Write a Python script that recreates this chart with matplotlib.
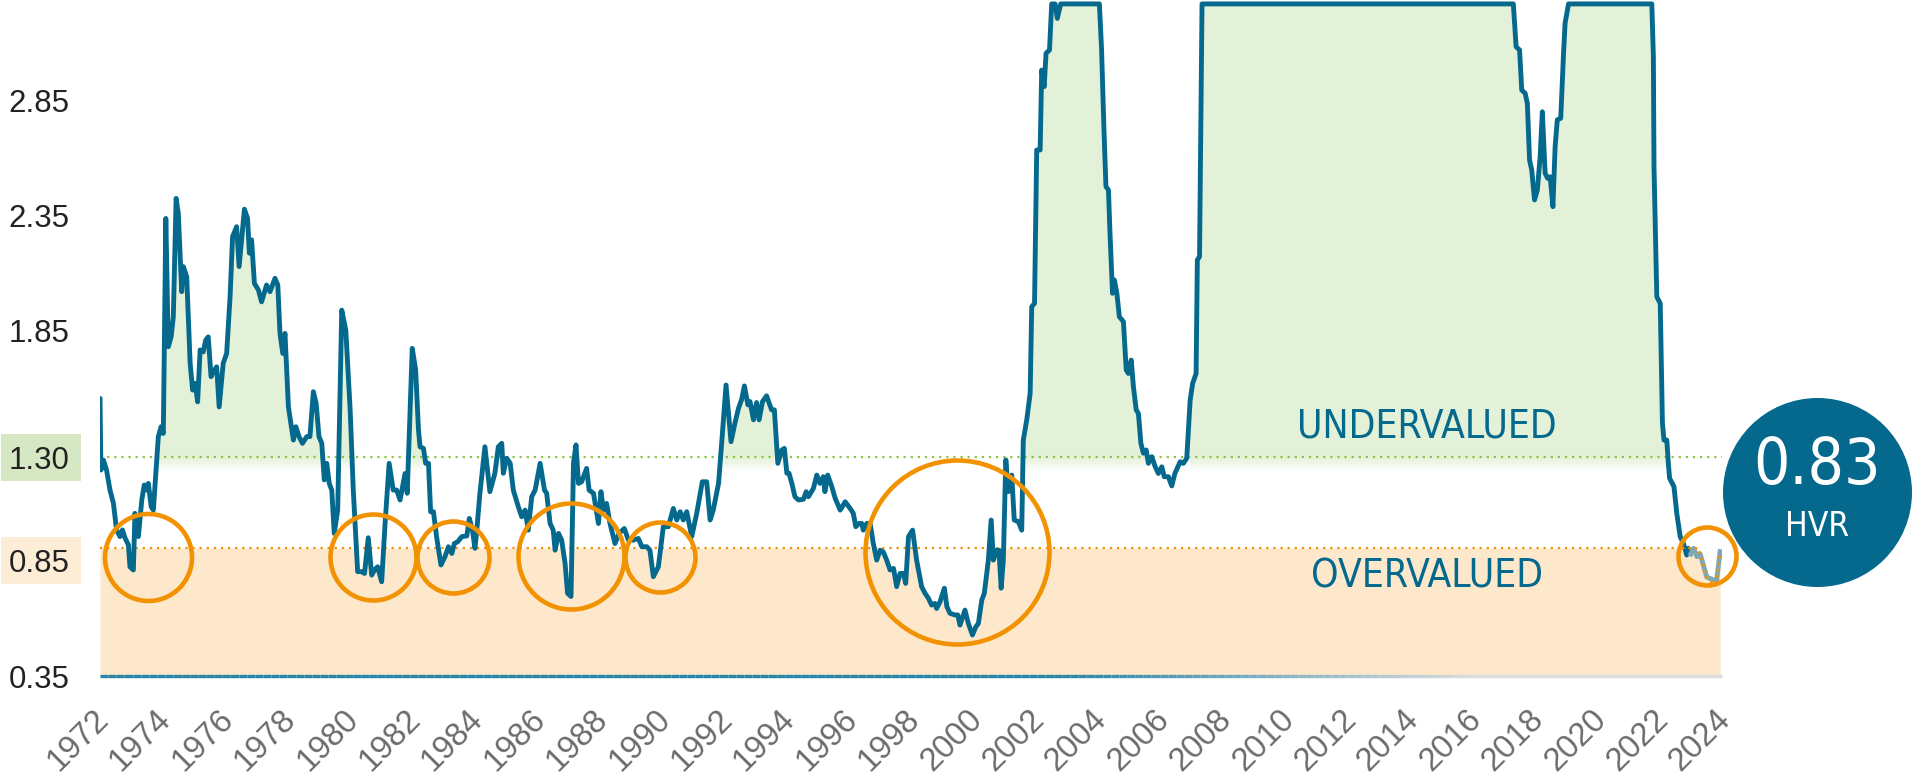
import numpy as np
import matplotlib
matplotlib.use("Agg")
import matplotlib.pyplot as plt
from matplotlib import font_manager as fm
from matplotlib.collections import LineCollection
from matplotlib.colors import to_rgba
import matplotlib.transforms as mtransforms
from matplotlib.patches import Rectangle

# ---------------- data ----------------
years = [
    1972.00, 1972.03, 1972.11, 1972.21, 1972.32, 1972.43, 1972.53, 1972.64, 1972.72, 1972.80,
    1972.91, 1972.96, 1973.07, 1973.12, 1973.18, 1973.23, 1973.34, 1973.42, 1973.50, 1973.55,
    1973.64, 1973.71, 1973.82, 1973.87, 1973.96, 1974.03, 1974.11, 1974.19, 1974.28, 1974.35,
    1974.44, 1974.51, 1974.62, 1974.67, 1974.78, 1974.89, 1974.97, 1975.05, 1975.13, 1975.21,
    1975.31, 1975.39, 1975.47, 1975.56, 1975.63, 1975.74, 1975.82, 1975.95, 1976.06, 1976.17,
    1976.25, 1976.38, 1976.46, 1976.52, 1976.63, 1976.73, 1976.79, 1976.86, 1976.95, 1977.08,
    1977.18, 1977.34, 1977.45, 1977.61, 1977.70, 1977.77, 1977.86, 1977.93, 1978.04, 1978.20,
    1978.28, 1978.38, 1978.49, 1978.63, 1978.73, 1978.84, 1978.93, 1979.02, 1979.11, 1979.19,
    1979.27, 1979.35, 1979.43, 1979.51, 1979.62, 1979.75, 1979.88, 1980.02, 1980.12, 1980.26,
    1980.39, 1980.48, 1980.60, 1980.71, 1980.80, 1980.90, 1981.03, 1981.14, 1981.27, 1981.40,
    1981.51, 1981.62, 1981.78, 1981.85, 1982.01, 1982.12, 1982.21, 1982.26, 1982.37, 1982.44,
    1982.53, 1982.60, 1982.69, 1982.79, 1982.93, 1983.06, 1983.17, 1983.28, 1983.36, 1983.47,
    1983.60, 1983.76, 1983.84, 1983.94, 1984.02, 1984.08, 1984.18, 1984.34, 1984.50, 1984.66,
    1984.77, 1984.88, 1984.93, 1985.04, 1985.15, 1985.25, 1985.41, 1985.52, 1985.63, 1985.73,
    1985.84, 1985.95, 1986.11, 1986.25, 1986.32, 1986.43, 1986.53, 1986.59, 1986.70, 1986.80,
    1986.91, 1986.99, 1987.10, 1987.18, 1987.26, 1987.34, 1987.44, 1987.60, 1987.68, 1987.82,
    1987.98, 1988.06, 1988.14, 1988.24, 1988.35, 1988.51, 1988.64, 1988.81, 1988.94, 1989.10,
    1989.26, 1989.37, 1989.53, 1989.63, 1989.74, 1989.90, 1990.06, 1990.22, 1990.38, 1990.49,
    1990.60, 1990.70, 1990.81, 1990.97, 1991.13, 1991.31, 1991.45, 1991.56, 1991.66, 1991.83,
    1991.93, 1992.07, 1992.23, 1992.36, 1992.47, 1992.57, 1992.66, 1992.77, 1992.84, 1992.95,
    1993.05, 1993.13, 1993.24, 1993.37, 1993.53, 1993.62, 1993.73, 1993.86, 1993.94, 1994.02,
    1994.09, 1994.18, 1994.28, 1994.39, 1994.55, 1994.64, 1994.71, 1994.87, 1994.98, 1995.08,
    1995.19, 1995.24, 1995.33, 1995.46, 1995.57, 1995.73, 1995.89, 1996.05, 1996.15, 1996.23,
    1996.33, 1996.42, 1996.47, 1996.58, 1996.69, 1996.79, 1996.90, 1997.01, 1997.11, 1997.22,
    1997.33, 1997.44, 1997.54, 1997.65, 1997.76, 1997.83, 1997.92, 1998.05, 1998.18, 1998.34,
    1998.45, 1998.56, 1998.66, 1998.77, 1998.82, 1998.93, 1999.07, 1999.15, 1999.25, 1999.41,
    1999.50, 1999.57, 1999.73, 1999.84, 1999.97, 2000.08, 2000.16, 2000.27, 2000.35, 2000.48,
    2000.57, 2000.64, 2000.75, 2000.82, 2000.89, 2000.96, 2001.04, 2001.12, 2001.23, 2001.31,
    2001.44, 2001.55, 2001.60, 2001.71, 2001.82, 2001.87, 2001.96, 2002.03, 2002.14, 2002.19,
    2002.27, 2002.33, 2002.44, 2002.51, 2002.62, 2002.69, 2002.80, 2004.04, 2004.11, 2004.19,
    2004.25, 2004.33, 2004.38, 2004.46, 2004.52, 2004.60, 2004.68, 2004.81, 2004.90, 2004.97,
    2005.06, 2005.13, 2005.22, 2005.29, 2005.37, 2005.45, 2005.54, 2005.61, 2005.72, 2005.83,
    2005.93, 2006.04, 2006.12, 2006.25, 2006.36, 2006.46, 2006.63, 2006.73, 2006.84, 2006.95,
    2007.03, 2007.14, 2007.18, 2007.25, 2007.33, 2017.31, 2017.40, 2017.51, 2017.58, 2017.69,
    2017.76, 2017.83, 2017.90, 2017.99, 2018.08, 2018.17, 2018.24, 2018.33, 2018.41, 2018.49,
    2018.58, 2018.65, 2018.72, 2018.83, 2018.92, 2018.97, 2019.08, 2021.75, 2021.80, 2021.82,
    2021.86, 2021.91, 2022.02, 2022.09, 2022.14, 2022.23, 2022.28, 2022.32, 2022.46, 2022.55,
    2022.66, 2022.76, 2022.87, 2022.92, 2023.00,
]
hvr = [
    1.555, 1.244, 1.287, 1.244, 1.157, 1.100, 0.984, 0.955, 0.984, 0.950,
    0.919, 0.824, 0.810, 1.056, 0.961, 0.955, 1.114, 1.179, 1.157, 1.186,
    1.085, 1.070, 1.287, 1.389, 1.432, 1.403, 2.336, 1.779, 1.822, 1.909,
    2.423, 2.358, 2.018, 2.127, 2.083, 1.707, 1.591, 1.620, 1.540, 1.765,
    1.757, 1.808, 1.822, 1.649, 1.670, 1.692, 1.518, 1.707, 1.750, 1.996,
    2.257, 2.300, 2.127, 2.214, 2.376, 2.336, 2.185, 2.243, 2.054, 2.025,
    1.974, 2.047, 2.018, 2.076, 2.047, 1.837, 1.750, 1.837, 1.518, 1.374,
    1.432, 1.389, 1.360, 1.389, 1.389, 1.584, 1.533, 1.389, 1.360, 1.201,
    1.273, 1.186, 1.157, 0.969, 1.070, 1.938, 1.851, 1.504, 1.157, 0.803,
    0.803, 0.795, 0.950, 0.788, 0.810, 0.824, 0.759, 1.013, 1.273, 1.157,
    1.157, 1.114, 1.229, 1.143, 1.772, 1.678, 1.418, 1.345, 1.338, 1.273,
    1.273, 1.063, 1.063, 0.955, 0.832, 0.868, 0.911, 0.882, 0.925, 0.933,
    0.955, 0.958, 1.034, 0.983, 0.904, 0.983, 1.143, 1.345, 1.150, 1.230,
    1.345, 1.360, 1.230, 1.295, 1.273, 1.157, 1.085, 1.041, 1.070, 0.983,
    1.128, 1.157, 1.273, 1.157, 1.143, 1.012, 0.983, 0.896, 0.969, 0.940,
    0.839, 0.709, 0.695, 1.273, 1.353, 1.186, 1.193, 1.251, 1.157, 1.143,
    1.012, 1.150, 1.070, 1.099, 1.012, 0.925, 0.969, 0.990, 0.940, 0.940,
    0.947, 0.911, 0.911, 0.896, 0.781, 0.824, 0.998, 0.998, 1.077, 1.027,
    1.063, 1.027, 1.063, 0.955, 1.056, 1.193, 1.193, 1.027, 1.070, 1.186,
    1.360, 1.613, 1.367, 1.450, 1.512, 1.550, 1.609, 1.527, 1.541, 1.462,
    1.537, 1.462, 1.541, 1.566, 1.505, 1.505, 1.273, 1.331, 1.338, 1.230,
    1.230, 1.186, 1.128, 1.114, 1.117, 1.150, 1.128, 1.164, 1.222, 1.186,
    1.215, 1.150, 1.222, 1.172, 1.121, 1.070, 1.106, 1.077, 1.056, 0.998,
    1.012, 1.012, 0.983, 1.012, 1.012, 0.926, 0.853, 0.896, 0.889, 0.853,
    0.810, 0.817, 0.738, 0.795, 0.795, 0.752, 0.955, 0.983, 0.853, 0.738,
    0.709, 0.687, 0.658, 0.665, 0.643, 0.672, 0.731, 0.651, 0.622, 0.615,
    0.615, 0.571, 0.636, 0.578, 0.528, 0.564, 0.578, 0.680, 0.709, 0.853,
    1.027, 0.853, 0.896, 0.896, 0.731, 0.853, 1.288, 1.150, 1.222, 1.027,
    1.020, 0.983, 1.374, 1.461, 1.577, 1.953, 1.967, 2.633, 2.633, 2.980,
    2.908, 3.053, 3.067, 3.267, 3.267, 3.204, 3.267, 3.267, 3.067, 2.705,
    2.474, 2.460, 2.271, 2.011, 2.069, 2.011, 1.909, 1.888, 1.678, 1.663,
    1.721, 1.606, 1.505, 1.490, 1.360, 1.317, 1.331, 1.273, 1.302, 1.258,
    1.229, 1.258, 1.215, 1.215, 1.175, 1.229, 1.280, 1.273, 1.295, 1.548,
    1.620, 1.663, 2.156, 2.170, 3.267, 3.267, 3.081, 3.067, 2.893, 2.879,
    2.835, 2.590, 2.546, 2.416, 2.459, 2.604, 2.799, 2.532, 2.510, 2.517,
    2.387, 2.648, 2.764, 2.771, 3.053, 3.184, 3.267, 3.267, 3.038, 2.560,
    2.314, 1.996, 1.967, 1.447, 1.374, 1.374, 1.273, 1.208, 1.172, 1.056,
    0.955, 0.926, 0.875, 0.904, 0.880,
]
tail_years = [2023.00, 2023.09, 2023.20, 2023.30, 2023.51, 2023.72, 2023.83, 2023.94]
tail_hvr = [0.880, 0.904, 0.868, 0.880, 0.780, 0.767, 0.767, 0.890]
fcst_years = [2022.71, 2023.24, 2023.51, 2023.73, 2023.83, 2023.94]
fcst_hvr = [0.905, 0.904, 0.781, 0.745, 0.767, 0.882]

circle_years = [1973.55, 1980.76, 1983.32, 1987.10, 1989.96, 1999.47, 2023.52]
circle_hvr = [0.868, 0.868, 0.868, 0.872, 0.868, 0.888, 0.872]
circle_radius_px = [43.5, 43, 36, 53, 35, 92, 29]

ytick_values = [0.35, 0.85, 1.30, 1.85, 2.35, 2.85]
ytick_labels = ["0.35", "0.85", "1.30", "1.85", "2.35", "2.85"]
xtick_years = list(range(1972, 2025, 2))
under_thr = 1.30
over_thr = 0.905
current_hvr = "0.83"

# ---------------- style ----------------
TEAL = "#04698d"
TAIL = "#7ea8b6"
GREEN_FILL = "#e4f1d9"
GREEN_BOX = "#d5e8c3"
GREEN_DOT = "#8cc63e"
ORANGE = "#f39200"
ORANGE_FILL = "#fde8cb"
ORANGE_BOX = "#fdecd6"

avail = {f.name for f in fm.fontManager.ttflist}
BASE = "Liberation Sans" if "Liberation Sans" in avail else "DejaVu Sans"
if "Liberation Sans Narrow" in avail:
    NARROW = dict(family="Liberation Sans Narrow")
else:
    NARROW = dict(family="DejaVu Sans", fontstretch="condensed")
plt.rcParams["font.family"] = [BASE, "DejaVu Sans"]

W, H, DPI = 1913, 776, 100
fig = plt.figure(figsize=(W / DPI, H / DPI), dpi=DPI)
ax = fig.add_axes([100 / W, 100 / H, 1622 / W, 676 / H])
ax.set_xlim(1972, 2024)
ax.set_ylim(0.35, 0.35 + 676 / 230.4)

all_years = np.array(years + tail_years[1:])
all_hvr = np.array(hvr + tail_hvr[1:])

# undervalued area
ax.fill_between(all_years, under_thr, all_hvr, where=all_hvr >= under_thr,
                interpolate=True, color=GREEN_FILL, lw=0, zorder=1)
nfade = 8
for i in range(nfade):
    lo = under_thr - (i + 1) * 0.008
    hi = under_thr - i * 0.008
    ax.fill_between(all_years, lo, hi, where=all_hvr >= under_thr, color=GREEN_FILL,
                    alpha=1 - (i + 0.5) / nfade, lw=0, zorder=1)
# overvalued area
ax.fill_between(all_years, 0.35, np.minimum(all_hvr, over_thr), color=ORANGE_FILL,
                lw=0, zorder=1)

# threshold lines
ax.axhline(under_thr, color=GREEN_DOT, lw=1.6, ls=(0, (1, 2.2)), zorder=2)
ax.hlines(over_thr, xtick_years[0], fcst_years[1], color=ORANGE, lw=1.6,
          ls=(0, (1, 2.2)), zorder=2)

# bottom axis line with fade
bx = np.linspace(xtick_years[0], xtick_years[-1], 200)
segs = [[(bx[i], 0.35), (bx[i + 1], 0.35)] for i in range(len(bx) - 1)]
c0 = np.array(to_rgba("#2a86a8"))
c1 = np.array(to_rgba("#dcdcdc"))
cols = []
for i in range(len(bx) - 1):
    f = np.clip((bx[i] - 2003) / 13.0, 0, 1)
    cols.append(c0 * (1 - f) + c1 * f)
lc = LineCollection(segs, colors=cols, linewidths=2.4, clip_on=False, zorder=3)
ax.add_collection(lc)

# series
ax.plot(years, hvr, color=TEAL, lw=3.5, solid_joinstyle="round", solid_capstyle="round", zorder=5)
ax.plot(tail_years, tail_hvr, color=TAIL, lw=3.5, solid_joinstyle="round", zorder=5)
ax.plot(fcst_years, fcst_hvr, color=ORANGE, lw=1.8, ls=(0, (1, 1.6)), zorder=6)

# circles marking overvalued episodes
for cx, cy, r in zip(circle_years, circle_hvr, circle_radius_px):
    ax.plot([cx], [cy], "o", ms=2 * r * 72 / DPI, mfc="none", mec=ORANGE, mew=3.3,
            zorder=7, clip_on=False)

# zone labels
ax.text(2014.55, 1.435, "UNDERVALUED", color=TEAL, fontsize=28, ha="center", va="center",
        zorder=8, **NARROW)
ax.text(2014.55, 0.784, "OVERVALUED", color=TEAL, fontsize=28, ha="center", va="center",
        zorder=8, **NARROW)

# axes styling
for s in ax.spines.values():
    s.set_visible(False)
ax.set_yticks(ytick_values)
ax.set_yticklabels(ytick_labels)
ax.set_xticks(xtick_years)
ax.set_xticklabels([str(y) for y in xtick_years])
ax.tick_params(axis="y", length=0, pad=22, labelsize=22.5, labelcolor="#222222")
ax.tick_params(axis="x", length=0, pad=32, labelsize=23.5, labelcolor="#6b6b6b")
shift = mtransforms.ScaledTranslation(10 / DPI, 0, fig.dpi_scale_trans)
for lab in ax.get_xticklabels():
    lab.set_rotation(45)
    lab.set_ha("right")
    lab.set_va("baseline")
    lab.set_rotation_mode("anchor")
    lab.set_transform(lab.get_transform() + shift)

# label boxes behind the threshold tick labels
btrans = mtransforms.blended_transform_factory(fig.transFigure, ax.transData)
for val, col in [(1.30, GREEN_BOX), (0.85, ORANGE_BOX)]:
    ax.add_patch(Rectangle((1 / W, val - 0.102), 80 / W, 0.204, transform=btrans,
                           facecolor=col, edgecolor="none", clip_on=False, zorder=0))

# current value badge
bx_ax = (1817 - 100) / 1622
by_ax = (676 - 492) / 676
ax.plot([bx_ax], [by_ax], "o", ms=189 * 72 / DPI, color=TEAL, mec="none",
        transform=ax.transAxes, clip_on=False, zorder=9)
ax.text(bx_ax, (676 - 466) / 676, current_hvr, color="white", fontsize=46,
        ha="center", va="center", transform=ax.transAxes, zorder=10, **NARROW)
ax.text(bx_ax, (676 - 527) / 676, "HVR", color="white", fontsize=24,
        ha="center", va="center", transform=ax.transAxes, zorder=10, **NARROW)

fig.savefig("out.png", dpi=DPI)
